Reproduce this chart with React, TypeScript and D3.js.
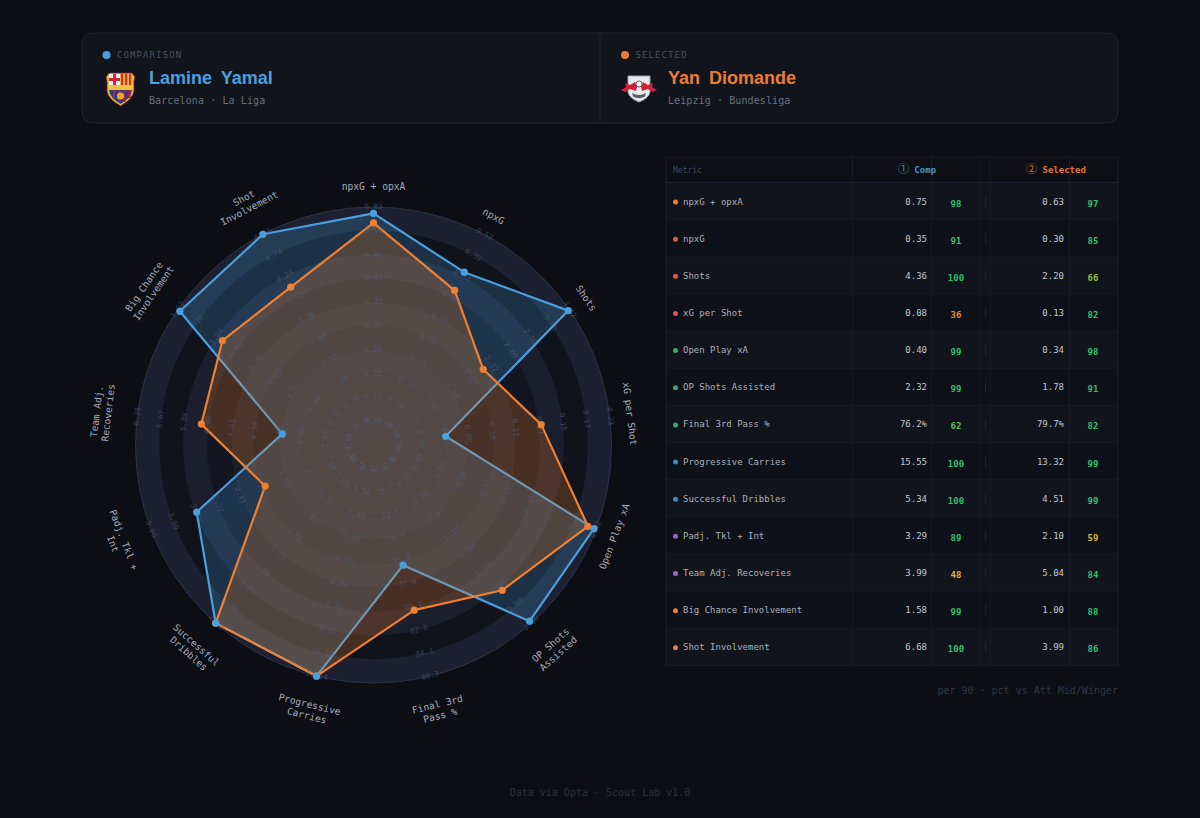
import * as d3 from "d3";

const metrics = ["npxG + opxA", "npxG", "Shots", "xG per Shot", "Open Play xA", "OP Shots Assisted", "Final 3rd Pass %", "Progressive Carries", "Successful Dribbles", "Padj. Tkl + Int", "Team Adj. Recoveries", "Big Chance Involvement", "Shot Involvement"];
const axisLabels = [["npxG + opxA"], ["npxG"], ["Shots"], ["xG per Shot"], ["Open Play xA"], ["OP Shots", "Assisted"], ["Final 3rd", "Pass %"], ["Progressive", "Carries"], ["Successful", "Dribbles"], ["Padj. Tkl +", "Int"], ["Team Adj.", "Recoveries"], ["Big Chance", "Involvement"], ["Shot", "Involvement"]];
const compValues = [0.75, 0.35, 4.36, 0.0755, 0.4, 2.32, 76.2, 15.55, 5.34, 3.29, 3.99, 1.58, 6.68];
const selValues = [0.63, 0.3, 2.2, 0.132, 0.34, 1.78, 79.7, 13.32, 4.51, 2.1, 5.04, 1.0, 3.99];
const compPct = [98, 91, 100, 36, 99, 99, 62, 100, 100, 89, 48, 99, 100];
const selPct = [97, 85, 66, 82, 98, 91, 82, 99, 99, 59, 84, 88, 86];
const groupColors = ["#ee7f38", "#e0544e", "#e0544e", "#e0544e", "#3aa76d", "#3aa76d", "#3aa76d", "#3f86c9", "#3f86c9", "#9068c9", "#9068c9", "#ee7f38", "#ee7f38"];

// ring tick values per metric, inner ring to outer ring (they are quantiles, so not evenly spaced)
const ringTicks = [
  [0.12, 0.17, 0.22, 0.26, 0.3, 0.35, 0.4, 0.46, 0.53, 0.83],
  [0.06, 0.1, 0.13, 0.17, 0.2, 0.24, 0.28, 0.34, 0.39, 0.52],
  [0.9, 1.3, 1.6, 1.8, 2.02, 2.32, 2.6, 2.9, 3.4, 4.42],
  [0.05, 0.06, 0.075, 0.084, 0.1, 0.11, 0.13, 0.15, 0.17, 0.23],
  [0.02, 0.04, 0.06, 0.08, 0.1, 0.12, 0.14, 0.17, 0.2, 0.42],
  [0.3, 0.5, 0.7, 0.9, 1.1, 1.3, 1.5, 1.74, 2.0, 2.36],
  [67.2, 70.4, 72.6, 74.4, 75.9, 77.4, 79.3, 82.0, 84.1, 88.3],
  [2.5, 3.5, 4.4, 5.2, 6.0, 6.8, 7.7, 8.8, 10.2, 13.14],
  [0.7, 1.05, 1.35, 1.65, 1.95, 2.25, 2.6, 3.0, 3.5, 4.3],
  [1.1, 1.4, 1.65, 1.9, 2.13, 2.41, 2.77, 3.32, 3.9, 5.06],
  [3.1, 3.5, 3.8, 4.02, 4.3, 4.61, 4.9, 5.39, 5.67, 6.38],
  [0.2, 0.32, 0.44, 0.55, 0.66, 0.78, 0.9, 1.04, 1.26, 1.62],
  [1.2, 1.7, 2.1, 2.5, 2.9, 3.3, 3.75, 4.24, 4.74, 6.66],
];

// band colours, outer to inner: the contrast fades toward the centre
const bandColors = ["#1c2030", "#11131c", "#1b1e2d", "#131622", "#1a1d2a", "#151824", "#191c29", "#161925", "#191c29", "#161925"];

const BLUE = "#4a9fdd";
const ORANGE = "#f0802f";
const MONO = "'DejaVu Sans Mono', monospace";
const cx = 373.5;
const cy = 445;
const R = 238;

const rings = d3.range(1, 11).map((k) => (k * R) / 10);
const angle = d3.scaleLinear().domain([0, metrics.length]).range([0, 2 * Math.PI]);
const radius = ringTicks.map((t) => d3.scaleLinear().domain([d3.min(t)! * 0.5, ...t]).range([0, ...rings]).clamp(true));
const radar = d3.lineRadial<number>().angle((_, i) => angle(i)).radius((d, i) => radius[i](d)).curve(d3.curveLinearClosed);
const pctColor = d3.scaleThreshold<number, string>().domain([40, 60, 62, 66, 80]).range(["#e08a3a", "#d4b83a", "#d4b83a", "#5fb85a", "#8bbf4a", "#2fbf71"]);

const deg = (i: number) => (angle(i) * 180) / Math.PI;
const tangent = (a: number) => (a > 90 && a < 270 ? a - 180 : a > 270 ? a - 360 : a);
const polar = (i: number, r: number): [number, number] => [Math.sin(angle(i)) * r, -Math.cos(angle(i)) * r];

const fmtTick = (i: number, v: number) => (i === 6 ? v.toFixed(1) : v.toFixed(2));
const fmtVal = (i: number, v: number) => (i === 6 ? `${v.toFixed(1)}%` : v.toFixed(2));

const Barca = () => (
  <g transform="translate(105,71)">
    <path d="M4,2 L27,2 L30,6 L29,10 L29,20 Q28,28 15.5,35 Q3,28 2,20 L2,10 L1,6 Z" fill="#e7b93c" stroke="#7d1d33" strokeWidth="0.8" />
    <rect x="4" y="3" width="11" height="11" fill="#f2f2f2" />
    <rect x="8" y="3" width="3" height="11" fill="#d8203a" />
    <rect x="4" y="7" width="11" height="3" fill="#d8203a" />
    {[16, 20, 24].map((x) => (
      <rect key={x} x={x} y="3" width="2.2" height="11" fill="#cf3127" />
    ))}
    <rect x="3" y="14.5" width="25" height="4" fill="#eec643" />
    <path d="M4,19 L27,19 Q26,27 15.5,33 Q5,27 4,19 Z" fill="#20408e" />
    {[8, 13, 18, 23].map((x) => (
      <path key={x} d={`M${x},19 h2.5 v${x > 10 && x < 20 ? 12 : 8} h-2.5 Z`} fill="#a61e46" />
    ))}
    <circle cx="15.5" cy="25" r="3.6" fill="#e6a92f" />
  </g>
);

const Leipzig = () => (
  <g transform="translate(621,74)">
    <path d="M7,2 L29,2 L29,18 Q28,24 18,28 Q8,24 7,18 Z" fill="#e9e9ec" stroke="#9a9da6" strokeWidth="1" />
    <path d="M0,16 L5,13 L4,9 L9,11 L14,8 L16,13 L15,17 L9,15 L4,18 Z" fill="#d3203a" />
    <path d="M36,16 L31,13 L32,9 L27,11 L22,8 L20,13 L21,17 L27,15 L32,18 Z" fill="#d3203a" />
    <circle cx="18" cy="10" r="3" fill="#f7f7f7" stroke="#444" strokeWidth="0.8" />
    <path d="M11,19 Q18,23 25,19 L24,22.5 Q18,26 12,22.5 Z" fill="#5a5d66" />
  </g>
);

const PlayerHead = ({ x, tag, name, sub, color, dx }: { x: number; tag: string; name: string; sub: string; color: string; dx: number }) => (
  <g>
    <circle cx={x} cy={55} r={4} fill={color} />
    <text x={x + 10.5} y={58} fontFamily={MONO} fontSize={9} letterSpacing={1.1} fill="#4a505d">{tag}</text>
    <text x={x + dx} y={84} fontFamily="'Liberation Sans', sans-serif" fontWeight={700} fontSize={18} wordSpacing={4} fill={color}>{name}</text>
    <text x={x + dx} y={104} fontFamily={MONO} fontSize={10} letterSpacing={0.1} fill="#667080">{sub}</text>
  </g>
);

const colX = [666, 852.5, 931.5, 980, 990, 1069.5, 1118];
const headH = 25.5;
const tableTop = 157;
const rowH = 37.15;
const rowY = (i: number) => tableTop + headH + i * rowH;

const Table = () => (
  <g fontFamily={MONO}>
    <rect x={666} y={tableTop} width={452} height={headH} fill="#0d0f15" />
    {metrics.map((m, i) => (
      <g key={m}>
        <rect x={666} y={rowY(i)} width={452} height={rowH} fill={i % 2 ? "#0e1118" : "#11141b"} />
        <line x1={666} x2={1118} y1={rowY(i)} y2={rowY(i)} stroke={i === 0 ? "#1d212b" : "#181b23"} />
        <circle cx={675.5} cy={rowY(i) + 19.5} r={2.5} fill={groupColors[i]} />
        <text x={683} y={rowY(i) + 22} fontSize={9} fill="#aab0bc">{m}</text>
        <text x={927} y={rowY(i) + 22} fontSize={9} textAnchor="end" fill="#c2c7d0">{fmtVal(i, compValues[i])}</text>
        <text x={956} y={rowY(i) + 24} fontSize={9} fontWeight={700} textAnchor="middle" fill={pctColor(compPct[i])}>{compPct[i]}</text>
        <line x1={985.5} x2={985.5} y1={rowY(i) + 14} y2={rowY(i) + 24} stroke="#1f232c" />
        <text x={1064} y={rowY(i) + 22} fontSize={9} textAnchor="end" fill="#c2c7d0">{fmtVal(i, selValues[i])}</text>
        <text x={1093} y={rowY(i) + 24} fontSize={9} fontWeight={700} textAnchor="middle" fill={pctColor(selPct[i])}>{selPct[i]}</text>
      </g>
    ))}
    {colX.map((x) => (
      <line key={x} x1={x} x2={x} y1={tableTop} y2={rowY(metrics.length)} stroke="#181b23" />
    ))}
    <rect x={666} y={tableTop} width={452} height={rowY(metrics.length) - tableTop} fill="none" stroke="#181b23" />
    <text x={673} y={172.5} fontSize={8} fill="#3f4a5c">Metric</text>
    <text x={917} y={173} fontSize={9} fontWeight={700} textAnchor="middle" fill="#4a94d0">
      <tspan fontSize={11} fontWeight={400} fontFamily="'Noto Sans CJK SC'">①</tspan> Comp
    </text>
    <text x={1056} y={173} fontSize={9} fontWeight={700} textAnchor="middle" fill="#d9753a">
      <tspan fontSize={11} fontWeight={400} fontFamily="'Noto Sans CJK SC'">②</tspan> Selected
    </text>
  </g>
);

const Radar = () => (
  <g transform={`translate(${cx},${cy})`} fontFamily={MONO}>
    {[...rings].reverse().map((r, i) => (
      <circle key={r} r={r} fill={bandColors[i]} stroke={i > 3 ? "#11131c" : "none"} strokeOpacity={0.8} />
    ))}
    <circle r={R} fill="none" stroke="#2c3248" />
    <circle r={1} fill="#2c2c30" />
    <path d={radar(compValues)!} fill={BLUE} fillOpacity={0.22} stroke={BLUE} strokeWidth={2.2} strokeLinejoin="round" />
    <path d={radar(selValues)!} fill={ORANGE} fillOpacity={0.24} stroke={ORANGE} strokeWidth={2.2} strokeLinejoin="round" />
    {metrics.map((m, i) =>
      ringTicks[i].map((t, k) => {
        const [x, y] = polar(i, rings[k]);
        return (
          <text key={`${m}-${k}`} transform={`translate(${x},${y}) rotate(${tangent(deg(i))})`} fontSize={7.5} textAnchor="middle" dominantBaseline="middle" fill="#566483" fillOpacity={0.55}>
            {fmtTick(i, t)}
          </text>
        );
      })
    )}
    {selValues.map((v, i) => {
      const [x, y] = polar(i, radius[i](v));
      return <circle key={i} cx={x} cy={y} r={3.6} fill={ORANGE} />;
    })}
    {compValues.map((v, i) => {
      const [x, y] = polar(i, radius[i](v));
      return <circle key={i} cx={x} cy={y} r={3.6} fill={BLUE} />;
    })}
    {axisLabels.map((lines, i) => {
      const a = deg(i);
      const flipped = a > 90 && a < 270;
      return lines.map((line, j) => {
        const offset = lines.length === 1 ? 258 : flipped ? 267.5 + j * 11.5 : 267 + (lines.length - 1 - j) * 11.5;
        const [x, y] = polar(i, offset);
        return (
          <text key={line} transform={`translate(${x},${y}) rotate(${tangent(a)})`} fontSize={9.6} textAnchor="middle" dominantBaseline="middle" fill="#a5abb8">
            {line}
          </text>
        );
      });
    })}
  </g>
);

export default function App() {
  return (
    <svg width={1200} height={818} viewBox="0 0 1200 818" style={{ position: "fixed", left: 0, top: 0, background: "#0c0e14" }}>
      <rect x={82} y={33} width={1036} height={90} rx={10} fill="#11141b" stroke="#1e222c" />
      <line x1={600} x2={600} y1={33} y2={123} stroke="#1e222c" />
      <PlayerHead x={106.5} tag="COMPARISON" name="Lamine Yamal" sub="Barcelona · La Liga" color={BLUE} dx={42.5} />
      <PlayerHead x={625} tag="SELECTED" name="Yan Diomande" sub="Leipzig · Bundesliga" color="#ec7c33" dx={43} />
      <Barca />
      <Leipzig />
      <Radar />
      <Table />
      <text x={1118} y={694} textAnchor="end" fontFamily={MONO} fontSize={10} fill="#2f3542">per 90 · pct vs Att Mid/Winger</text>
      <text x={600} y={796} textAnchor="middle" fontFamily={MONO} fontSize={10} fill="#2a2f3a">Data via Opta · Scout Lab v1.0</text>
    </svg>
  );
}
